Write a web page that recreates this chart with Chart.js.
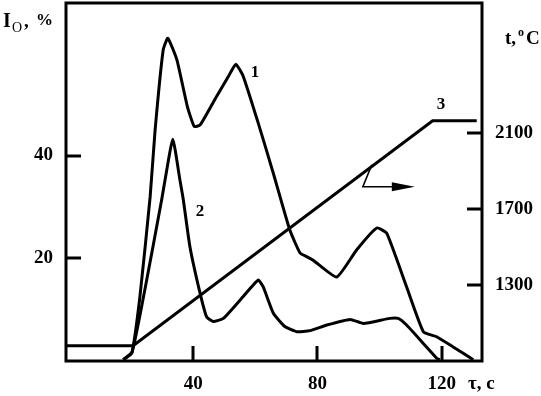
<!DOCTYPE html>
<html>
<head>
<meta charset="utf-8">
<script src="https://cdn.jsdelivr.net/npm/chart.js@4.4.1/dist/chart.umd.min.js"></script>
<style>
  html, body { margin: 0; padding: 0; background: #fff; }
  canvas { display: block; }
</style>
</head>
<body>
<canvas id="myChart" width="541" height="396"></canvas>
<script>
// curve 1 - I_O, %
const TAU_1 = [17.5, 20.2, 22.8, 26.1, 27.7, 30.3, 31.8, 34.7, 38.1, 40.3, 42.2, 47.5, 51.3, 53.7, 56.1, 60.9, 65.8, 71.1, 74.4, 76.5, 78.6, 86.2, 92.6, 99.1, 102.3, 108.7, 114.1, 118.4, 123.7, 130.2];
const I_1 = [0, 1.3, 12.3, 31.9, 45.0, 60.7, 63.0, 58.8, 49.6, 45.7, 46.0, 51.6, 55.5, 57.9, 55.5, 46.4, 36.5, 25.4, 20.9, 20.2, 19.5, 16.2, 21.5, 25.8, 24.8, 14.3, 5.5, 4.5, 2.5, 0];
// curve 2 - I_O, %
const TAU_2 = [17.4, 20.3, 24.4, 29.8, 30.9, 33.4, 35.7, 36.8, 38.9, 42.2, 44.3, 46.4, 49.7, 56.1, 60.9, 62.5, 65.8, 69.5, 73.3, 77.6, 83.0, 90.5, 94.8, 103.3, 106.0, 108.7, 114.1, 118.4, 119.4];
const I_2 = [0, 1.5, 13.7, 31.3, 35.2, 43.2, 35.2, 31.3, 22.2, 13.0, 8.4, 7.5, 8.1, 12.4, 15.6, 14.3, 9.1, 6.5, 5.5, 5.7, 6.8, 7.9, 7.1, 8.1, 8.1, 6.8, 3.2, 0.3, 0];
// curve 3 - temperature, °C
const TAU_3 = [-1, 20.6, 117.1, 131.3];
const T_3 = [982, 982, 2165, 2165];

const X_TICKS = [40, 80, 120];
const Y_TICKS = [20, 40];
const T_TICKS = [1300, 1700, 2100];

const FONT = '"Liberation Serif", "Times New Roman", serif';

function toPoints(xs, ys) {
  return xs.map((x, i) => ({ x: x, y: ys[i] }));
}

// frame, inner tick marks, titles and curve numbers
const FRAME_PLUGIN = {
  id: 'framePlugin',
  afterDraw(chart) {
    const { ctx, chartArea } = chart;
    const xs = chart.scales.x, ys = chart.scales.y, ts = chart.scales.t;
    ctx.save();
    ctx.strokeStyle = '#000';
    ctx.fillStyle = '#000';
    ctx.lineWidth = 3;
    ctx.strokeRect(chartArea.left, chartArea.top, chartArea.right - chartArea.left, chartArea.bottom - chartArea.top);

    ctx.beginPath();
    X_TICKS.forEach(v => {
      const px = Math.round(xs.getPixelForValue(v));
      ctx.moveTo(px, chartArea.bottom);
      ctx.lineTo(px, chartArea.bottom - 15);
    });
    Y_TICKS.forEach(v => {
      const py = Math.round(ys.getPixelForValue(v));
      ctx.moveTo(chartArea.left, py);
      ctx.lineTo(chartArea.left + 15, py);
    });
    T_TICKS.forEach(v => {
      const py = Math.round(ts.getPixelForValue(v));
      ctx.moveTo(chartArea.right, py);
      ctx.lineTo(chartArea.right - 15, py);
    });
    ctx.stroke();

    // arrow pointing to the right axis, starting on curve 3
    const ax = xs.getPixelForValue(97.5), ay = ts.getPixelForValue(1933);
    ctx.lineWidth = 1.5;
    ctx.beginPath();
    ctx.moveTo(ax, ay);
    ctx.lineTo(ax - 9, ay + 22);
    ctx.lineTo(ax + 22, ay + 22);
    ctx.stroke();
    ctx.beginPath();
    ctx.moveTo(ax + 43, ay + 22);
    ctx.lineTo(ax + 20, ay + 17.5);
    ctx.lineTo(ax + 20, ay + 26.5);
    ctx.closePath();
    ctx.fill();

    // axis titles
    ctx.textBaseline = 'alphabetic';
    ctx.textAlign = 'left';
    ctx.font = 'bold 20px ' + FONT;
    ctx.fillText('I', 3, 27);
    ctx.font = '14px ' + FONT;
    ctx.fillText('O', 12, 32);
    ctx.font = 'bold 19px ' + FONT;
    ctx.fillText(',', 24, 27);
    ctx.font = 'bold 17px ' + FONT;
    ctx.fillText('%', 36, 25);

    ctx.font = 'bold 19px ' + FONT;
    ctx.fillText('t,', 505, 44);
    ctx.font = 'bold 12px ' + FONT;
    ctx.fillText('o', 518, 36);
    ctx.font = 'bold 19px ' + FONT;
    ctx.fillText('C', 526, 44);

    ctx.fillText('\u03c4, c', 468, 389);

    // curve numbers
    ctx.font = 'bold 17px ' + FONT;
    ctx.textAlign = 'center';
    ctx.textBaseline = 'middle';
    ctx.fillText('1', 255, 73);
    ctx.fillText('2', 200, 212);
    ctx.fillText('3', 441, 105);
    ctx.restore();
  }
};

const LINE_STYLE = {
  borderColor: '#000',
  borderWidth: 3,
  pointRadius: 0,
  fill: false,
  clip: false
};

const TICK_FONT = { family: FONT, size: 19, weight: 'bold' };

function noPad(scale) {
  scale.paddingTop = 0;
  scale.paddingBottom = 0;
  scale.paddingLeft = 0;
  scale.paddingRight = 0;
}

const CONFIG = {
  type: 'line',
  data: {
    datasets: [
      Object.assign({ label: '1', data: toPoints(TAU_1, I_1), yAxisID: 'y', tension: 0.15 }, LINE_STYLE),
      Object.assign({ label: '2', data: toPoints(TAU_2, I_2), yAxisID: 'y', tension: 0.15 }, LINE_STYLE),
      Object.assign({ label: '3', data: toPoints(TAU_3, T_3), yAxisID: 't', tension: 0 }, LINE_STYLE)
    ]
  },
  options: {
    responsive: false,
    animation: false,
    layout: { padding: { top: 3, left: 0, right: 0, bottom: 0 } },
    plugins: {
      legend: { display: false },
      tooltip: { enabled: false }
    },
    scales: {
      x: {
        type: 'linear',
        min: -1,
        max: 133,
        grid: { display: false, drawTicks: false },
        border: { display: false },
        afterBuildTicks: scale => { scale.ticks = X_TICKS.map(v => ({ value: v })); },
        afterFit: scale => { scale.height = 35; noPad(scale); },
        ticks: { color: '#000', padding: 12, font: TICK_FONT, callback: v => String(v) }
      },
      y: {
        type: 'linear',
        position: 'left',
        min: -0.25,
        max: 69.9,
        grid: { display: false, drawTicks: false },
        border: { display: false },
        afterBuildTicks: scale => { scale.ticks = Y_TICKS.map(v => ({ value: v })); },
        afterFit: scale => { scale.width = 66; noPad(scale); },
        ticks: { color: '#000', padding: 13, font: TICK_FONT, callback: v => String(v) }
      },
      t: {
        type: 'linear',
        position: 'right',
        min: 901.6,
        max: 2784,
        grid: { display: false, drawTicks: false },
        border: { display: false },
        afterBuildTicks: scale => { scale.ticks = T_TICKS.map(v => ({ value: v })); },
        afterFit: scale => { scale.width = 59; noPad(scale); },
        ticks: { color: '#000', padding: 13, font: TICK_FONT, callback: v => String(v) }
      }
    }
  },
  plugins: [FRAME_PLUGIN]
};

const MY_CHART = new Chart(document.getElementById('myChart'), CONFIG);
</script>
</body>
</html>
